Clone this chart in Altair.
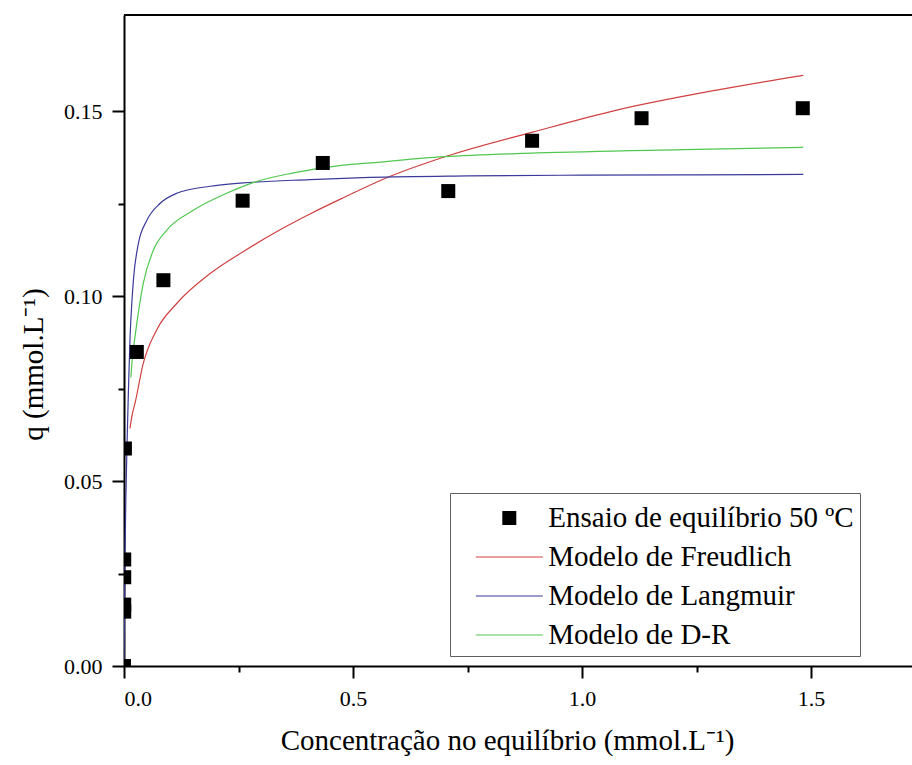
import altair as alt
import pandas as pd

# ---------------- data ----------------
SERIES = ["Ensaio de equilíbrio 50 ºC", "Modelo de Freudlich",
          "Modelo de Langmuir", "Modelo de D-R"]

ens_x = [0.0, 0.0005, 0.0005, 0.0005, 0.0005, 0.002, 0.028, 0.086,
         0.259, 0.434, 0.708, 0.891, 1.130, 1.482]
ens_y = [0.000, 0.0147, 0.0166, 0.0240, 0.0288, 0.0588, 0.0849, 0.1043,
         0.1258, 0.1360, 0.1284, 0.1420, 0.1481, 0.1508]

fr_x = [0.013, 0.018, 0.024, 0.042, 0.071, 0.115, 0.188, 0.260, 0.333,
        0.406, 0.479, 0.566, 0.704, 0.894, 1.076, 1.294, 1.483]
fr_y = [0.0642, 0.0680, 0.0710, 0.0818, 0.0908, 0.0980, 0.1061, 0.1120,
        0.1174, 0.1222, 0.1266, 0.1316, 0.1378, 0.1444, 0.1503, 0.1557, 0.1597]

la_x = [0.0, 0.002, 0.004, 0.007, 0.010, 0.013, 0.017, 0.021, 0.031,
        0.050, 0.079, 0.115, 0.188, 0.260, 0.406, 0.537, 0.75, 1.0, 1.25, 1.483]
la_y = [0.0, 0.028, 0.045, 0.062, 0.076, 0.088, 0.098, 0.105, 0.114,
        0.1205, 0.1251, 0.1278, 0.1297, 0.1306, 0.1315, 0.1321, 0.1325,
        0.1327, 0.1328, 0.1329]

dr_x = [0.015, 0.018, 0.024, 0.042, 0.064, 0.093, 0.151, 0.224, 0.282,
        0.370, 0.479, 0.537, 0.697, 0.901, 1.221, 1.483]
dr_y = [0.078, 0.083, 0.089, 0.1034, 0.1124, 0.1178, 0.1232, 0.1278,
        0.1307, 0.1333, 0.1354, 0.1360, 0.1377, 0.1387, 0.1396, 0.1402]

x_ticks = [0.0, 0.25, 0.5, 0.75, 1.0, 1.25, 1.5]
y_ticks = [0.0, 0.025, 0.05, 0.075, 0.10, 0.125, 0.15]

COLORS = ["#000000", "#d04040", "#3a3a9a", "#50c850"]

# ---------------- tables ----------------
pts = pd.DataFrame({"x": ens_x, "y": ens_y, "series": SERIES[0]})
lines = pd.concat([
    pd.DataFrame({"x": fr_x, "y": fr_y, "series": SERIES[1], "lc": COLORS[1]}),
    pd.DataFrame({"x": la_x, "y": la_y, "series": SERIES[2], "lc": COLORS[2]}),
    pd.DataFrame({"x": dr_x, "y": dr_y, "series": SERIES[3], "lc": COLORS[3]}),
], ignore_index=True)

W, H = 788, 651
FONT = "Liberation Serif"

S = 38  # legend symbol cell (sqrt of symbol size)
SQ = 14.0 / S
LN = 67.0 / S
TH = 1.1 / S
square_path = f"M{-SQ:.4f},{-SQ:.4f}H{SQ:.4f}V{SQ:.4f}H{-SQ:.4f}Z"
line_path = f"M{-LN:.4f},{-TH:.4f}H{LN:.4f}V{TH:.4f}H{-LN:.4f}Z"

color_scale = alt.Scale(domain=SERIES, range=COLORS)
shape_scale = alt.Scale(domain=SERIES, range=[square_path, line_path, line_path, line_path])

x_axis = alt.Axis(
    values=x_ticks, format=".1f",
    labelExpr="round(datum.value*4) % 2 == 0 ? datum.label : ''",
    tickSize={"condition": {"test": "round(datum.value*4) % 2 == 0", "value": 12}, "value": 6},
    labelPadding=10, title="Concentração no equilíbrio (mmol.L⁻¹)",
    titleX=383, titleY=74, titleBaseline="middle",
)
y_axis = alt.Axis(
    values=y_ticks, format=".2f",
    labelExpr="round(datum.value*40) % 2 == 0 ? datum.label : ''",
    tickSize={"condition": {"test": "round(datum.value*40) % 2 == 0", "value": 12}, "value": 6},
    labelPadding=10, title="q (mmol.L⁻¹)",
    titleX=-91, titleY=349, titleBaseline="middle", titleAngle=270,
)

x_enc = alt.X("x:Q", scale=alt.Scale(domain=[0, 1.7205], nice=False, zero=False), axis=x_axis)
y_enc = alt.Y("y:Q", scale=alt.Scale(domain=[0, 0.176], nice=False, zero=False), axis=y_axis)

legend = alt.Legend(
    title=None, orient="none", legendX=326, legendY=478,
    fillColor="white", strokeColor="#606060", padding=6,
    symbolSize=S * S, symbolStrokeWidth=0, symbolOpacity=1,
    symbolOffset=34.3, labelOffset=20, rowPadding=5,
    labelFont=FONT, labelFontSize=29, labelColor="black", labelLimit=600,
)

points_layer = alt.Chart(pts).mark_point(
    filled=True, opacity=1, size=S * S, clip=True
).encode(
    x=x_enc, y=y_enc,
    color=alt.Color("series:N", scale=color_scale, legend=legend),
    shape=alt.Shape("series:N", scale=shape_scale, legend=legend),
)

lines_layer = alt.Chart(lines).mark_line(
    strokeWidth=1.2, clip=True, interpolate="monotone"
).encode(
    x=x_enc, y=y_enc,
    stroke=alt.Stroke("lc:N", scale=None),
    detail="series:N",
)

top_rule = alt.Chart(pd.DataFrame({"a": [0]})).mark_rule(
    color="black", strokeWidth=2
).encode(x=alt.value(0), x2=alt.value(W), y=alt.value(0))

chart = alt.layer(lines_layer, points_layer, top_rule).properties(
    width=W, height=H,
    autosize=alt.AutoSizeParams(type="none"),
    padding={"left": 124, "top": 15, "right": 0, "bottom": 99},
    background="white",
).configure_view(stroke=None).configure_axis(
    grid=False, domainColor="black", domainWidth=2,
    tickColor="black", tickWidth=2,
    labelFont=FONT, labelFontSize=22, labelColor="black",
    titleFont=FONT, titleFontSize=29, titleFontWeight="normal", titleColor="black",
).configure_legend(
    labelFont=FONT, labelFontSize=29, labelColor="black", labelLimit=600,
    rowPadding=5, symbolStrokeWidth=0,
)

chart.save("out.html", embed_options={"renderer": "svg", "actions": False})
